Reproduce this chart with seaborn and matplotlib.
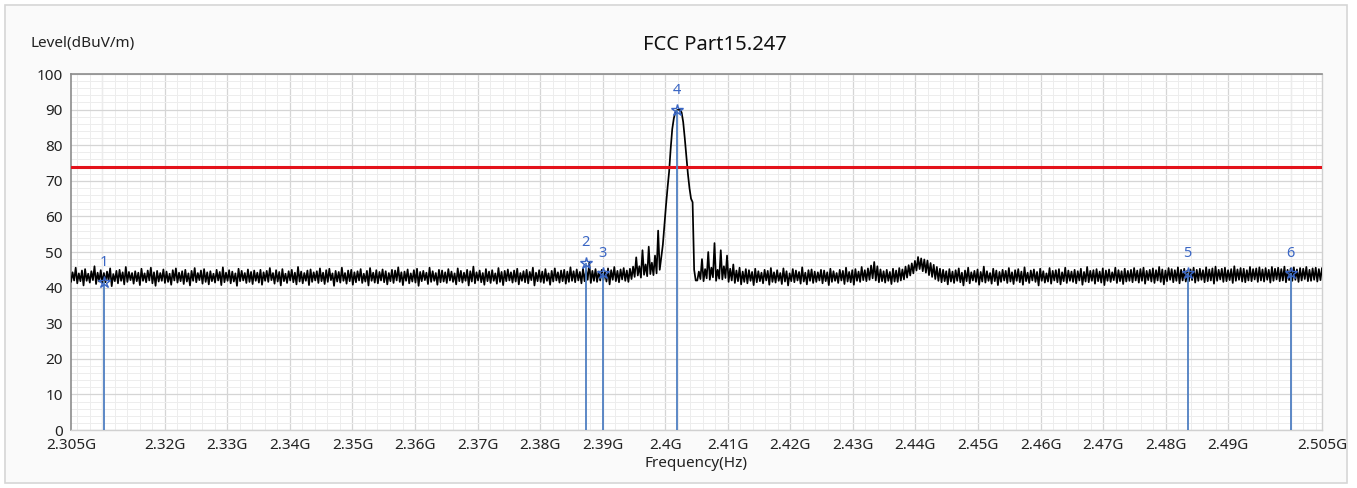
import numpy as np
import pandas as pd
import matplotlib
matplotlib.use('Agg')
import matplotlib.pyplot as plt
from matplotlib.patches import Rectangle
from matplotlib.ticker import MultipleLocator
import seaborn as sns

# 每 0.5MHz 一个显示单元，单元内两个采样点 (间隔 0.25MHz)，单位 dBuV/m
# sweep_a: 单元内第一个采样点
sweep_a = [
    41.6, 42.0, 41.2, 41.8, 40.6, 41.9, 41.4, 42.1, 41.0, 41.7, 41.3, 41.5, 42.0, 40.4, 41.8, 41.2, 41.9, 40.9, 41.6, 42.1,
    41.1, 41.8, 40.7, 41.9, 41.5, 42.0, 41.2, 40.5, 41.7, 41.9, 41.3, 41.6, 40.8, 42.0, 41.4, 41.8, 41.0, 41.7, 40.6, 41.9,
    41.5, 42.1, 41.1, 41.6, 40.9, 41.8, 41.4, 42.0, 40.7, 41.5, 41.9, 41.2, 41.7, 40.5, 41.8, 42.0, 41.3, 41.6, 41.0, 41.9,
    41.4, 40.8, 41.9, 41.6, 42.1, 41.1, 41.7, 40.6, 41.8, 41.3, 42.0, 41.5, 40.9, 41.7, 41.2, 41.9, 40.7, 41.6, 42.0, 41.3,
    41.8, 41.0, 41.6, 42.1, 40.5, 41.7, 41.4, 41.9, 41.1, 41.8, 40.8, 41.5, 42.0, 41.3, 41.7, 40.6, 41.9, 41.4, 41.2, 42.0,
    41.5, 40.9, 41.8, 41.3, 42.0, 41.6, 40.7, 41.9, 41.2, 41.7, 41.4, 40.5, 41.8, 42.1, 41.0, 41.6, 41.9, 40.8, 41.5, 41.7,
    41.3, 42.0, 41.6, 40.9, 41.8, 41.4, 41.9, 40.6, 41.7, 41.2, 42.0, 41.5, 40.8, 41.8, 41.3, 41.9, 41.1, 41.6, 40.7, 41.8,
    42.0, 41.4, 41.7, 40.9, 41.9, 41.5, 41.2, 42.1, 40.6, 41.8, 41.6, 41.3, 41.9, 40.8, 41.7, 42.0, 41.4, 41.8, 41.1, 41.6,
    41.9, 41.5, 42.0, 41.2, 41.8, 42.2, 41.3, 41.9, 41.6, 42.0, 42.1, 41.7, 40.9, 42.2, 41.8, 41.5, 42.3, 41.9, 41.6, 42.4,
    43.0, 43.4, 42.8, 43.6, 43.2, 43.8, 43.5, 44.0,
    45.0, 52.0, 63.0, 72.5, 84.5, 89.3, 90.0, 89.2, 82.0, 72.0, 65.0, 45.0,
    42.0, 42.4, 41.8, 42.6, 42.2, 42.9, 41.9, 42.5, 42.3, 42.7, 41.6, 42.0, 41.3, 41.8, 40.9, 41.6, 41.2, 41.9, 40.7, 41.5,
    41.8, 41.2, 42.0, 40.8, 41.6, 41.4, 41.9, 41.0, 41.7, 40.6, 41.8, 41.5, 42.0, 41.1, 41.7, 40.9, 41.9, 41.3, 41.6, 42.0,
    41.2, 41.8, 40.7, 41.6, 41.9, 41.3, 42.0, 41.0, 41.7, 41.5, 40.8, 41.9, 41.6, 42.1, 41.8, 42.2, 42.6, 42.0, 41.5, 41.8,
    41.4, 41.9, 41.0, 41.7, 41.6, 42.0, 42.3, 42.8, 43.4, 44.0, 44.8, 45.2, 44.6, 44.2, 43.5, 43.0, 42.4, 41.9, 41.5, 41.8,
    40.9, 41.7, 41.3, 41.9, 41.5, 40.6, 41.8, 41.2, 42.0, 41.6, 40.8, 41.7, 41.4, 41.9, 41.1, 41.8, 40.7, 41.6, 42.0, 41.3,
    41.7, 41.0, 41.9, 41.5, 40.8, 41.8, 41.3, 42.0, 41.6, 40.6, 41.9, 41.4, 41.7, 41.1, 42.0, 41.5, 40.9, 41.8, 41.3, 41.9,
    41.6, 41.2, 42.0, 40.8, 41.7, 41.5, 41.9, 41.1, 41.8, 41.4, 40.7, 41.9, 41.6, 42.1, 41.3, 41.8, 41.0, 41.7, 41.9, 41.5,
    42.0, 41.4, 41.9, 41.1, 42.1, 41.7, 41.3, 42.0, 41.6, 40.9, 41.8, 42.2, 41.5, 41.9, 41.2, 42.0, 41.7, 41.8, 42.1, 41.4,
    41.9, 42.2, 41.5, 41.8, 42.0, 41.1, 41.9, 42.3, 41.6, 41.8, 42.1, 41.3, 41.9, 42.2, 41.7, 41.5, 42.0, 41.8, 42.3, 41.6,
    42.0, 41.7, 42.2, 41.4, 41.9, 42.3, 41.8, 42.0, 41.5, 42.1, 41.9, 42.2, 41.6, 42.0, 42.4, 41.8, 41.9, 42.2, 41.7, 42.1,
]
# sweep_b: 单元内第二个采样点
sweep_b = [
    44.3, 45.6, 44.0, 44.8, 45.2, 43.9, 44.6, 46.0, 44.2, 44.9, 44.1, 44.5, 45.4, 43.8, 44.7, 45.0, 44.3, 45.8, 44.4, 44.1,
    44.6, 44.2, 45.3, 44.0, 44.8, 45.6, 44.3, 44.7, 44.1, 45.1, 44.5, 43.9, 44.9, 45.4, 44.2, 44.6, 45.0, 44.0, 44.7, 45.5,
    44.1, 44.8, 45.2, 44.3, 44.6, 43.9, 45.0, 44.4, 45.7, 44.2, 44.9, 44.5, 44.0, 45.3, 44.7, 44.1, 45.1, 44.4, 44.8, 44.2,
    45.0, 44.3, 44.7, 45.5, 44.1, 44.9, 44.4, 45.2, 43.9, 44.6, 45.0, 44.2, 45.8, 44.5, 44.1, 44.8, 45.1, 44.3, 44.6, 45.4,
    44.2, 44.9, 45.3, 44.0, 44.7, 44.4, 45.6, 44.1, 44.8, 45.0, 44.3, 44.6, 45.2, 43.9, 44.7, 45.5, 44.2, 44.9, 44.4, 45.1,
    44.6, 44.1, 45.0, 44.8, 45.7, 44.3, 44.5, 45.1, 44.0, 44.9, 45.3, 44.4, 44.7, 44.2, 45.6, 44.6, 44.1, 45.0, 44.8, 44.3,
    45.2, 44.5, 44.0, 45.4, 44.7, 44.2, 45.0, 44.6, 45.9, 44.3, 44.8, 44.1, 45.2, 44.5, 44.9, 44.0, 45.5, 44.4, 44.7, 45.1,
    44.3, 44.8, 45.3, 44.1, 44.6, 45.0, 44.4, 45.6, 44.2, 44.9, 44.5, 45.2, 44.0, 44.7, 45.4, 44.3, 44.8, 45.0, 44.5, 45.7,
    44.6, 45.1, 44.4, 45.3, 44.8, 47.0, 44.7, 45.2, 44.5, 45.0, 44.6, 45.4, 44.9, 45.8, 44.7, 45.1, 45.5, 44.8, 45.3, 45.9,
    48.5, 46.0, 50.5, 46.5, 51.5, 47.0, 49.0, 56.0,
    48.5, 57.5, 68.0, 79.0, 87.5, 89.8, 89.9, 86.5, 77.0, 68.0, 64.0, 42.0,
    44.5, 48.0, 45.2, 50.0, 45.6, 52.5, 45.0, 50.5, 46.0, 49.0, 45.3, 46.5, 44.8, 45.6, 44.5, 45.2, 44.9, 44.4, 45.3, 44.6,
    44.2, 45.0, 44.7, 45.5, 44.3, 44.9, 44.1, 45.4, 44.6, 44.0, 45.2, 44.8, 44.4, 45.7, 44.2, 44.9, 45.1, 44.5, 44.3, 45.0,
    44.8, 44.3, 45.3, 44.6, 44.1, 45.0, 44.7, 45.6, 44.4, 44.9, 45.2, 44.5, 45.8, 44.9, 45.4, 46.2, 47.2, 46.0, 45.1, 44.6,
    45.0, 44.4, 45.3, 44.8, 45.5, 45.1, 45.9, 46.3, 46.8, 47.5, 48.6, 48.2, 47.9, 47.6, 46.9, 46.4, 45.8, 45.3, 45.0, 44.6,
    45.2, 44.5, 44.9, 45.4, 44.2, 44.8, 45.6, 44.3, 44.7, 45.1, 44.4, 45.9, 44.6, 44.1, 45.3, 44.8, 44.4, 45.0, 44.7, 45.5,
    44.3, 44.9, 45.2, 44.5, 45.7, 44.2, 44.8, 45.1, 44.4, 45.3, 44.6, 44.0, 45.5, 44.7, 44.9, 45.2, 44.3, 45.6, 44.8, 44.5,
    45.0, 44.6, 45.3, 44.4, 45.8, 44.7, 44.9, 45.2, 44.5, 45.4, 44.8, 45.1, 44.3, 45.6, 44.9, 44.6, 45.3, 44.7, 45.0, 45.5,
    44.8, 45.2, 45.6, 44.7, 45.0, 45.4, 44.9, 45.8, 45.1, 44.8, 45.5, 45.2, 44.9, 45.7, 45.0, 45.3, 44.8, 45.1, 45.6, 45.0,
    45.3, 44.9, 45.7, 45.1, 45.4, 45.9, 45.0, 45.3, 45.6, 44.9, 45.2, 46.0, 45.1, 45.5, 45.3, 44.9, 45.8, 45.2, 45.4, 45.7,
    45.1, 45.5, 45.0, 45.8, 45.3, 45.6, 45.2, 45.9, 45.0, 45.4, 45.7, 45.1, 45.5, 45.3, 45.8, 45.0, 45.4, 45.6, 45.2, 45.5,
]
f_start, f_stop = 2.305, 2.505  # GHz

# 合并成完整迹线
trace = np.empty(len(sweep_a) + len(sweep_b))
trace[0::2] = sweep_a
trace[1::2] = sweep_b
freq = np.linspace(f_start, f_stop, len(trace))

limit = 74.0

marker_no = [1, 2, 3, 4, 5, 6]
marker_freq = [2.3103, 2.3873, 2.3900, 2.4019, 2.4835, 2.5000]
marker_level = [41.5, 47.0, 44.0, 89.8, 44.0, 44.0]

x_ticks = [2.305, 2.32, 2.33, 2.34, 2.35, 2.36, 2.37, 2.38, 2.39, 2.40,
           2.41, 2.42, 2.43, 2.44, 2.45, 2.46, 2.47, 2.48, 2.49, 2.505]
x_labels = ['2.305G', '2.32G', '2.33G', '2.34G', '2.35G', '2.36G', '2.37G', '2.38G',
            '2.39G', '2.4G', '2.41G', '2.42G', '2.43G', '2.44G', '2.45G', '2.46G',
            '2.47G', '2.48G', '2.49G', '2.505G']

df = pd.DataFrame({'Frequency': freq, 'Level': trace})

sns.set_style('white')
plt.rcParams['font.family'] = ['Noto Sans', 'DejaVu Sans']

fig = plt.figure(figsize=(13.57, 4.88), dpi=100, facecolor='white')
fig.patches.append(Rectangle((5 / 1357, 5 / 488), 1342 / 1357, 478 / 488,
                             transform=fig.transFigure, facecolor='#fafafa',
                             edgecolor='#d6d6d6', lw=1.2, zorder=-10))
ax = fig.add_axes([71 / 1357, 1 - 430 / 488, 1251 / 1357, 356 / 488])
ax.set_facecolor('white')

# 网格
for x in np.arange(2.31, 2.505, 0.01):
    ax.axvline(x, color='#d5d5d5', lw=0.9, zorder=0)
ax.xaxis.set_minor_locator(MultipleLocator(0.002))
ax.yaxis.set_minor_locator(MultipleLocator(2))
ax.yaxis.set_major_locator(MultipleLocator(10))
ax.grid(which='major', axis='y', color='#d5d5d5', lw=0.9)
ax.grid(which='minor', color='#ededed', lw=0.7)
ax.set_axisbelow(True)

# 扫描曲线
sns.lineplot(data=df, x='Frequency', y='Level', color='black', lw=1.25,
             estimator=None, sort=False, ax=ax, zorder=3)

# 限值线
ax.axhline(limit, color='#e3121b', lw=2.2, zorder=4)

# Marker
blue = '#3a66c4'
for no, f, lv in zip(marker_no, marker_freq, marker_level):
    ax.vlines(f, 0, lv, color='#4f7fc2', lw=1.3, zorder=5)
    ax.plot(f, lv, marker='*', ms=9, mfc='none', mec=blue, mew=1.0, zorder=6)
    ax.annotate(str(no), (f, lv), xytext=(0, 9), textcoords='offset points',
                ha='center', va='bottom', color=blue, fontsize=10.5)

ax.set_xlim(f_start, f_stop)
ax.set_ylim(0, 100)
ax.set_xticks(x_ticks)
ax.set_xticklabels(x_labels)
ax.tick_params(axis='both', which='both', length=0, labelsize=11, colors='#222222', pad=6)
ax.set_xlabel('Frequency(Hz)', fontsize=11, color='#222222', labelpad=2)
ax.set_ylabel('')

for side in ['top', 'left']:
    ax.spines[side].set_color('#8c8c8c')
    ax.spines[side].set_linewidth(1.2)
for side in ['right', 'bottom']:
    ax.spines[side].set_color('#d0d0d0')
    ax.spines[side].set_linewidth(1.0)

fig.text(30 / 1357, 1 - 44 / 488, 'Level(dBuV/m)', fontsize=11, color='#222222',
         ha='left', va='center')
fig.text(715 / 1357, 1 - 45 / 488, 'FCC Part15.247', fontsize=14.5, color='#111111',
         ha='center', va='center')

fig.savefig('out.png', dpi=100, facecolor=fig.get_facecolor())
